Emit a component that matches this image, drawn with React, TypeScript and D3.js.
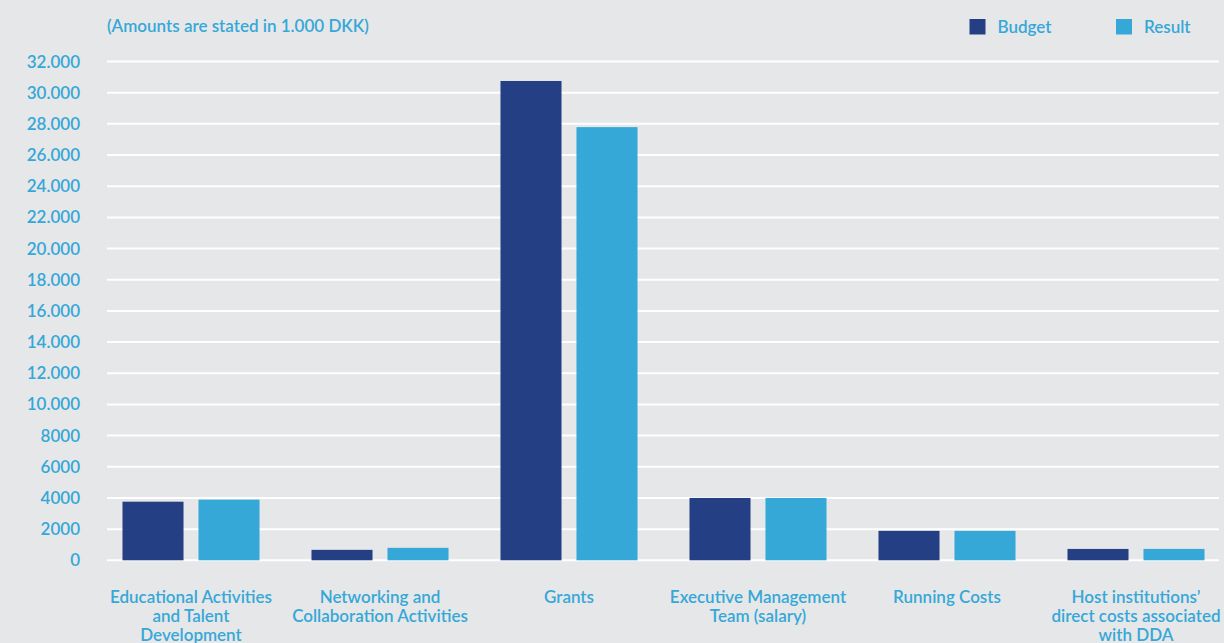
import React from "react";
import * as d3 from "d3";

const categories = [
  ["Educational Activities", "and Talent", "Development"],
  ["Networking and", "Collaboration Activities"],
  ["Grants"],
  ["Executive Management", "Team (salary)"],
  ["Running Costs"],
  ["Host institutions’", "direct costs associated", "with DDA"],
];
const budget = [3760, 670, 30750, 4000, 1890, 730];
const result = [3890, 800, 27790, 4000, 1890, 730];
const tickValues = [0, 2000, 4000, 6000, 8000, 10000, 12000, 14000, 16000, 18000, 20000, 22000, 24000, 26000, 28000, 30000, 32000];
const tickLabels = ["0", "2000", "4000", "6000", "8000", "10.000", "12.000", "14.000", "16.000", "18.000", "20.000", "22.000", "24.000", "26.000", "28.000", "30.000", "32.000"];
const seriesNames = ["Budget", "Result"];
const colors = ["#253f85", "#35a8d8"];
const title = "(Amounts are stated in 1.000 DKK)";

const W = 1224;
const H = 643;
const FONT = "Lato, 'Noto Sans', sans-serif";
const TEXT = "#35a8d8";
const FS = 17;

export default function App() {
  const keys = categories.map((_, i) => String(i));
  const y = d3.scaleLinear().domain([0, 32000]).range([560.3, 61.5]);
  const x0 = d3.scaleBand<string>().domain(keys).range([96.5, 1230.5]).paddingInner(0.275).paddingOuter(0.1375);
  const x1 = d3.scaleBand<string>().domain(["b", "r"]).range([0, x0.bandwidth()]).paddingInner(0.197).paddingOuter(0);
  const series = [budget, result];

  return (
    <svg width={W} height={H} style={{ position: "absolute", left: 0, top: 0, display: "block" }} fontFamily={FONT}>
      <rect x={0} y={0} width={W} height={H} fill="#e6e7e9" />
      <text x={107} y={32} fill={TEXT} fontSize={FS} fontWeight={600}>{title}</text>
      {tickValues.map((v, i) => (
        <g key={v}>
          <line x1={107} x2={1219} y1={y(v)} y2={y(v)} stroke="#ffffff" strokeWidth={2} />
          <text x={80} y={y(v) + 6} textAnchor="end" fill={TEXT} fontSize={FS} fontWeight={600}>{tickLabels[i]}</text>
        </g>
      ))}
      {keys.map((k, ci) => (
        <g key={k} transform={`translate(${x0(k)},0)`}>
          {series.map((s, si) => (
            <rect
              key={si}
              x={x1(si === 0 ? "b" : "r")}
              y={y(s[ci])}
              width={x1.bandwidth()}
              height={y(0) - y(s[ci])}
              fill={colors[si]}
            />
          ))}
        </g>
      ))}
      {keys.map((k, ci) => (
        <text key={k} x={(x0(k) as number) + x0.bandwidth() / 2} textAnchor="middle" fill={TEXT} fontSize={FS} fontWeight={600}>
          {categories[ci].map((line, li) => (
            <tspan key={li} x={(x0(k) as number) + x0.bandwidth() / 2} y={603 + li * 19}>{line}</tspan>
          ))}
        </text>
      ))}
      {seriesNames.map((name, i) => {
        const lx = [969.5, 1116][i];
        return (
          <g key={name}>
            <rect x={lx} y={19} width={16} height={15.5} fill={colors[i]} />
            <text x={lx + 28} y={33} fill={TEXT} fontSize={FS} fontWeight={600}>{name}</text>
          </g>
        );
      })}
    </svg>
  );
}
